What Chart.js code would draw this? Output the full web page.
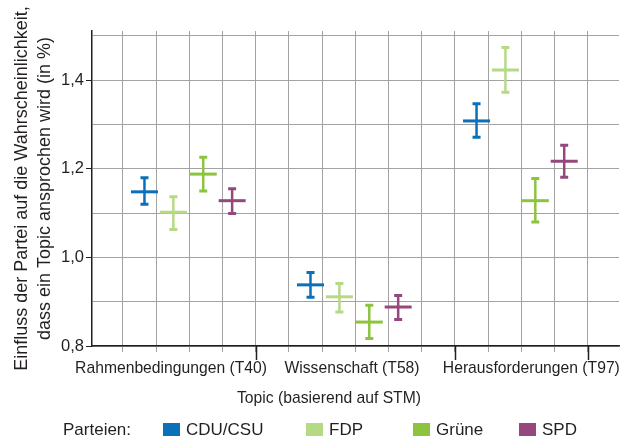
<!DOCTYPE html>
<html>
<head>
<meta charset="utf-8">
<script src="https://cdn.jsdelivr.net/npm/chart.js@4.4.1/dist/chart.umd.min.js"></script>
<style>
  body { margin:0; background:#fff; font-family:"Liberation Sans", Arial, sans-serif; color:#231f20; }
  #wrap { position:relative; width:624px; height:436px; overflow:hidden; }
  #c { position:absolute; left:0; top:0; }
  #xTitle { position:absolute; top:390px; left:329px; transform:translateX(-50%); font-size:15.7px; line-height:15.7px; white-space:nowrap; }
  .lg-box { position:absolute; top:423px; width:17px; height:17px; }
  .lg-txt { position:absolute; top:421px; font-size:17px; line-height:17px; white-space:nowrap; }
</style>
</head>
<body>
<div id="wrap">
  <canvas id="c" width="624" height="436"></canvas>
  <div id="xTitle">Topic (basierend auf STM)</div>
  <div id="legend"></div>
</div>
<script>
// ---- Daten ----
const topics  = ['Rahmenbedingungen (T40)', 'Wissenschaft (T58)', 'Herausforderungen (T97)'];
const parties = ['CDU/CSU', 'FDP', 'Grüne', 'SPD'];
const colors  = ['#0a70b7', '#b6d986', '#8cc43f', '#95487c'];

// Schätzer je Partei, Reihenfolge wie topics
const cduMean   = [1.148, 0.938, 1.308];
const cduLow    = [1.120, 0.910, 1.271];
const cduHigh   = [1.180, 0.966, 1.347];
const fdpMean   = [1.102, 0.911, 1.423];
const fdpLow    = [1.063, 0.877, 1.373];
const fdpHigh   = [1.137, 0.941, 1.474];
const grueneMean = [1.188, 0.854, 1.128];
const grueneLow  = [1.150, 0.817, 1.080];
const grueneHigh = [1.226, 0.892, 1.178];
const spdMean   = [1.128, 0.888, 1.217];
const spdLow    = [1.099, 0.860, 1.181];
const spdHigh   = [1.155, 0.914, 1.253];

const yTicks = [0.8, 1.0, 1.2, 1.4];

const means = [cduMean, fdpMean, grueneMean, spdMean];
const lows  = [cduLow, fdpLow, grueneLow, spdLow];
const highs = [cduHigh, fdpHigh, grueneHigh, spdHigh];

// ---- Layout ----
const groupStep = 5;                       // Breite je Topic auf der x-Achse
const partyOffset = [1.65, 2.52, 3.42, 4.29];
const labelPos = [2.45, 7.9, 13.3];         // Mitte der Topic-Beschriftung
const majorTicks = [5, 11, 15];             // lange Striche unter der Achse
const xMin = 0.07, xMax = 15.94;
const legendX = [163, 306, 413, 519];

// ---- Legende (HTML) ----
const legend = document.getElementById('legend');
legend.innerHTML = '<div class="lg-txt" style="left:63px">Parteien:</div>' +
  parties.map((p, i) =>
    `<div class="lg-box" style="left:${legendX[i]}px;background:${colors[i]}"></div>` +
    `<div class="lg-txt" style="left:${legendX[i] + 23}px">${p}</div>`).join('');

// ---- Fehlerbalken + lange Striche ----
const whiskers = {
  id: 'whiskers',
  afterDatasetsDraw(chart) {
    const {ctx, scales:{x, y}} = chart;
    ctx.save();
    chart.data.datasets.forEach((ds, p) => {
      ctx.strokeStyle = colors[p];
      topics.forEach((t, i) => {
        const px = x.getPixelForValue(i * groupStep + partyOffset[p]);
        const yh = y.getPixelForValue(highs[p][i]);
        const yl = y.getPixelForValue(lows[p][i]);
        ctx.lineWidth = 2.5;
        ctx.beginPath(); ctx.moveTo(px, yh); ctx.lineTo(px, yl); ctx.stroke();
        ctx.lineWidth = 3;
        ctx.beginPath();
        ctx.moveTo(px - 4, yh); ctx.lineTo(px + 4, yh);
        ctx.moveTo(px - 4, yl); ctx.lineTo(px + 4, yl);
        ctx.stroke();
      });
    });
    ctx.restore();
  },
  afterDraw(chart) {
    const {ctx, scales:{x}, chartArea} = chart;
    ctx.save();
    ctx.strokeStyle = '#231f20';
    ctx.lineWidth = 1.5;
    majorTicks.forEach(v => {
      const px = Math.round(x.getPixelForValue(v)) + 0.5;
      ctx.beginPath(); ctx.moveTo(px, chartArea.bottom); ctx.lineTo(px, chartArea.bottom + 14); ctx.stroke();
    });
    ctx.restore();
  }
};

new Chart(document.getElementById('c'), {
  type: 'scatter',
  data: {
    datasets: parties.map((p, k) => ({
      label: p,
      data: topics.map((t, i) => ({x: i * groupStep + partyOffset[k], y: means[k][i]})),
      pointStyle: 'line',
      pointRadius: 13.5,
      pointHoverRadius: 13.5,
      borderWidth: 3,
      borderColor: colors[k],
      backgroundColor: colors[k]
    }))
  },
  options: {
    responsive: false,
    devicePixelRatio: 1,
    animation: false,
    events: [],
    layout: { autoPadding: false, padding: { top: 31, right: 5, left: 0, bottom: 0 } },
    plugins: { legend: { display: false }, tooltip: { enabled: false } },
    scales: {
      x: {
        type: 'linear', position: 'bottom', min: xMin, max: xMax,
        afterBuildTicks: s => { s.ticks = []; for (let v = 1; v <= 15; v++) s.ticks.push({value: v}); },
        afterFit: s => { s.height = 6; s.paddingLeft = 0; s.paddingRight = 0; },
        ticks: { display: false },
        grid: { color: '#a3a3a3', lineWidth: 1, tickLength: 6, tickColor: '#a3a3a3' },
        border: { color: '#231f20', width: 1.5 }
      },
      xLab: {
        type: 'linear', position: 'bottom', min: xMin, max: xMax,
        afterBuildTicks: s => { s.ticks = labelPos.map(v => ({value: v})); },
        afterFit: s => { s.height = 84; s.paddingLeft = 0; s.paddingRight = 0; },
        grid: { display: false },
        border: { display: false },
        ticks: {
          autoSkip: false, maxRotation: 0, padding: -1,
          color: '#231f20', font: { family: '"Liberation Sans", Arial, sans-serif', size: 15.7 },
          callback: (v, i) => topics[i]
        }
      },
      y: {
        min: 0.8, max: 1.511,
        afterFit: s => { s.width = 92; s.paddingTop = 0; s.paddingBottom = 0; },
        ticks: {
          stepSize: 0.1, includeBounds: false, padding: 2,
          color: '#231f20', font: { family: '"Liberation Sans", Arial, sans-serif', size: 16.5 },
          callback: v => yTicks.some(t => Math.abs(t - v) < 1e-6) ? v.toFixed(1).replace('.', ',') : ''
        },
        grid: {
          color: '#a3a3a3', lineWidth: 1, tickLength: 6,
          tickColor: c => yTicks.some(t => Math.abs(t - c.tick.value) < 1e-6) ? '#231f20' : 'rgba(0,0,0,0)'
        },
        border: { color: '#231f20', width: 1.5 },
        title: {
          display: true,
          text: ['Einfluss der Partei auf die Wahrscheinlichkeit,', 'dass ein Topic ansprochen wird (in %)'],
          color: '#231f20',
          font: { family: '"Liberation Sans", Arial, sans-serif', size: 18, lineHeight: 1.28 },
          padding: { top: 10.5, bottom: 0 }
        }
      }
    }
  },
  plugins: [whiskers]
});
</script>
</body>
</html>
